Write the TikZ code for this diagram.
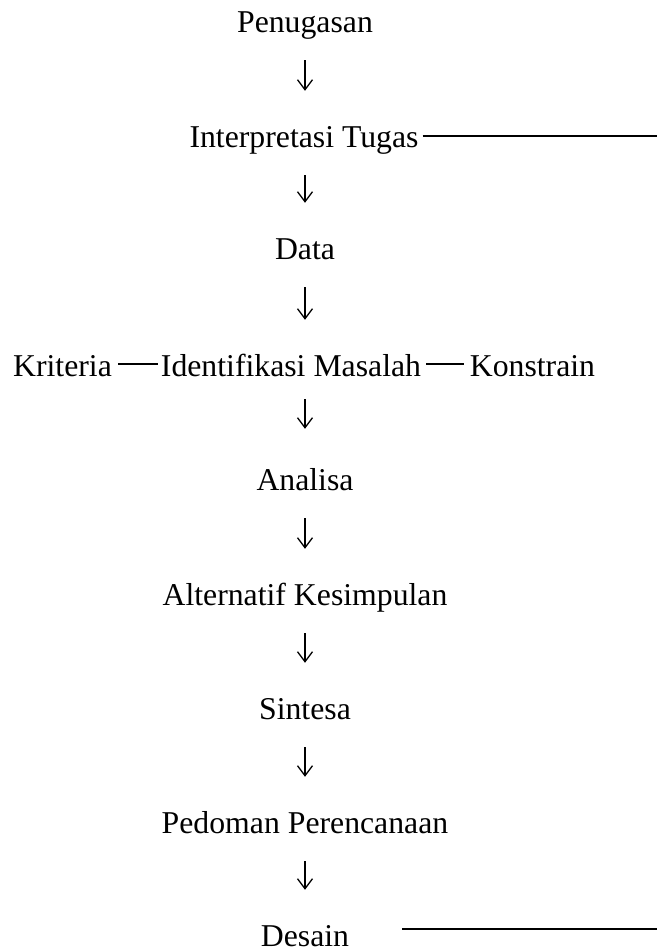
\documentclass[tikz,border=0pt]{standalone}
\usepackage{fontspec}
\setmainfont{Liberation Serif}
\usetikzlibrary{arrows.meta}
\begin{document}
\begin{tikzpicture}[x=1pt,y=-1pt,
  lbl/.style={inner sep=0pt, text height=22pt, text depth=7pt, anchor=base,
              font=\fontsize{31.75pt}{38pt}\selectfont},
  flow/.style={line width=1.3pt, -{Straight Barb[length=10pt,width=15pt]},
               shorten <=21pt, shorten >=34pt},
  dashline/.style={line width=1.4pt},
  rule/.style={line width=1.6pt}]
\useasboundingbox (0,0) rectangle (657,951);
% main column
\node[lbl] (pen) at (305,32)  {Penugasan};
\node[lbl] (int) at (304,147) {Interpretasi Tugas};
\node[lbl] (dat) at (305,259) {Data};
\node[lbl] (idm) at (291,376) {Identifikasi Masalah};
\node[lbl] (kri) at (62.5,376) {Kriteria};
\node[lbl] (kon) at (532.5,376) {Konstrain};
\node[lbl] (ana) at (305,490) {Analisa};
\node[lbl] (alt) at (305,605) {Alternatif Kesimpulan};
\node[lbl] (sin) at (305,719) {Sintesa};
\node[lbl] (ped) at (305,833) {Pedoman Perencanaan};
\node[lbl, text depth=2pt] (des) at (305,946) {Desain};
% free line ends
\coordinate (itend) at (657,136);
\coordinate (dlA) at (402,929);
\coordinate (dlB) at (657,929);
% arrows
\draw[flow] (pen.south -| 305,0) -- (int.north -| 305,0);
\draw[flow] (int.south -| 305,0) -- (dat.north -| 305,0);
\draw[flow] (dat) -- (idm.north -| 305,0);
\draw[flow, shorten <=16pt, shorten >=39pt] (idm.south -| 305,0) -- (ana);
\draw[flow] (ana) -- (alt);
\draw[flow] (alt) -- (sin);
\draw[flow] (sin) -- (ped);
\draw[flow] (ped) -- (des);
% dashes in the problem row
\draw[dashline] ([shift={(6pt,12pt)}]kri.base east) -- ([shift={(-3pt,12pt)}]idm.base west);
\draw[dashline] ([shift={(5pt,12pt)}]idm.base east) -- ([shift={(-6pt,12pt)}]kon.base west);
% horizontal rules
\draw[rule] ([shift={(4pt,11pt)}]int.base east) -- (itend);
\draw[rule, line width=1.8pt] (dlA) -- (dlB);
\end{tikzpicture}
\end{document}
